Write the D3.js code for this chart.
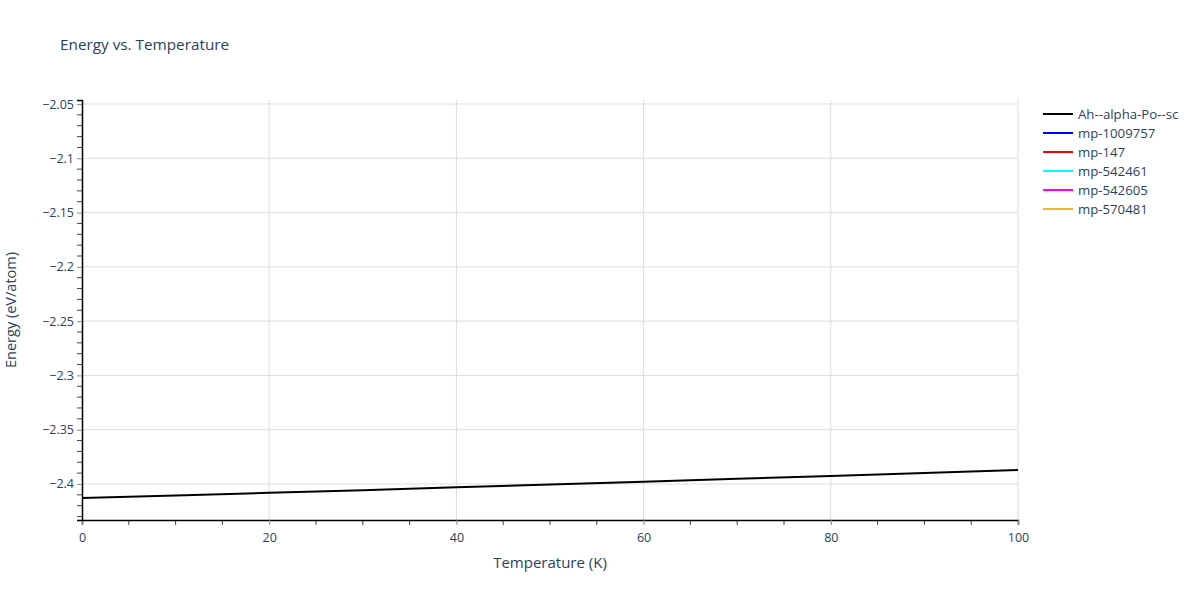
<!DOCTYPE html>
<html><head><meta charset="utf-8">
<script src="https://cdn.jsdelivr.net/npm/d3@7"></script>
<style>body{margin:0;background:#fff;} text{font-family:"Open Sans",sans-serif;}</style>
</head><body><svg id="c" width="1200" height="600"></svg>
<script>
const seriesNames = ["Ah--alpha-Po--sc","mp-1009757","mp-147","mp-542461","mp-542605","mp-570481"];
const seriesColors = ["#000000","#0000ff","#ff0000","#00ffff","#ff00ff","#f0b820"];
const temps = [0,10,20,30,40,50,60,70,80,90,100];
const energyAh = [-2.4130,-2.4106,-2.4082,-2.4057,-2.4031,-2.4005,-2.3980,-2.3953,-2.3926,-2.3898,-2.3871];
const seriesValues = [energyAh, [], [], [], [], []];
const xTicks = [0,20,40,60,80,100];
const yTicks = [-2.4,-2.35,-2.3,-2.25,-2.2,-2.15,-2.1,-2.05];
const yTickLabels = ["−2.4","−2.35","−2.3","−2.25","−2.2","−2.15","−2.1","−2.05"];

const svg = d3.select("#c");
const L=82,R=1018,T=100,B=520;
const x = d3.scaleLinear().domain([0,100]).range([L,R]);
const y = d3.scaleLinear().domain([-2.4332,-2.0463]).range([B,T]);
const txt="#2a3f5f";

// grid
svg.append("g").selectAll("line").data(yTicks).join("line")
 .attr("x1",L).attr("x2",R).attr("y1",d=>y(d)).attr("y2",d=>y(d)).attr("stroke","#dcdcdc");
svg.append("g").selectAll("line").data(xTicks.filter(d=>d>0)).join("line")
 .attr("x1",d=>x(d)).attr("x2",d=>x(d)).attr("y1",T).attr("y2",B).attr("stroke","#dcdcdc");

// minor ticks
const yMinor = d3.range(-2.43,-2.045,0.01).filter(v=>!yTicks.some(t=>Math.abs(t-v)<1e-6));
const xMinor = d3.range(5,100,5).filter(v=>v%20!==0);
svg.append("g").selectAll("line").data(yMinor).join("line")
 .attr("x1",L-5).attr("x2",L).attr("y1",d=>y(d)).attr("y2",d=>y(d)).attr("stroke","#444");
svg.append("g").selectAll("line").data(xMinor).join("line")
 .attr("x1",d=>x(d)).attr("x2",d=>x(d)).attr("y1",B).attr("y2",B+5).attr("stroke","#444");

// axes
const xa = svg.append("g").attr("transform",`translate(0,${B})`)
 .call(d3.axisBottom(x).tickValues(xTicks).tickSize(5).tickPadding(8).tickFormat(d3.format("d")));
const ya = svg.append("g").attr("transform",`translate(${L},0)`)
 .call(d3.axisLeft(y).tickValues(yTicks).tickSize(5).tickPadding(3).tickFormat((d,i)=>yTickLabels[i]));
[xa,ya].forEach(a=>{a.select(".domain").attr("stroke","#000").attr("stroke-width",1.5);
 a.selectAll(".tick line").attr("stroke","#888");
 a.selectAll(".tick text").attr("fill",txt).style("font-size","12.5px").style("font-family","'Open Sans',sans-serif");});

// lines
const line = d3.line().x((d,i)=>x(temps[i])).y(d=>y(d));
seriesValues.forEach((vals,k)=>{ if(vals.length) svg.append("path").datum(vals)
 .attr("d",line).attr("fill","none").attr("stroke",seriesColors[k]).attr("stroke-width",2); });

// titles
svg.append("text").attr("x",60).attr("y",50).attr("fill",txt).style("font-size","15.3px").text("Energy vs. Temperature");
svg.append("text").attr("x",(L+R)/2).attr("y",568).attr("text-anchor","middle").attr("fill",txt).style("font-size","15px").text("Temperature (K)");
svg.append("text").attr("transform",`translate(16,${(T+B)/2}) rotate(-90)`).attr("text-anchor","middle").attr("fill",txt).style("font-size","14.5px").text("Energy (eV/atom)");

// legend
const lg = svg.append("g").selectAll("g").data(seriesNames).join("g")
 .attr("transform",(d,i)=>`translate(1043,${114+i*19})`);
lg.append("line").attr("x1",0).attr("x2",30).attr("stroke",(d,i)=>seriesColors[i]).attr("stroke-width",2);
lg.append("text").attr("x",35).attr("y",4.5).attr("fill",txt).style("font-size","13.2px").text(d=>d);
</script></body></html>
